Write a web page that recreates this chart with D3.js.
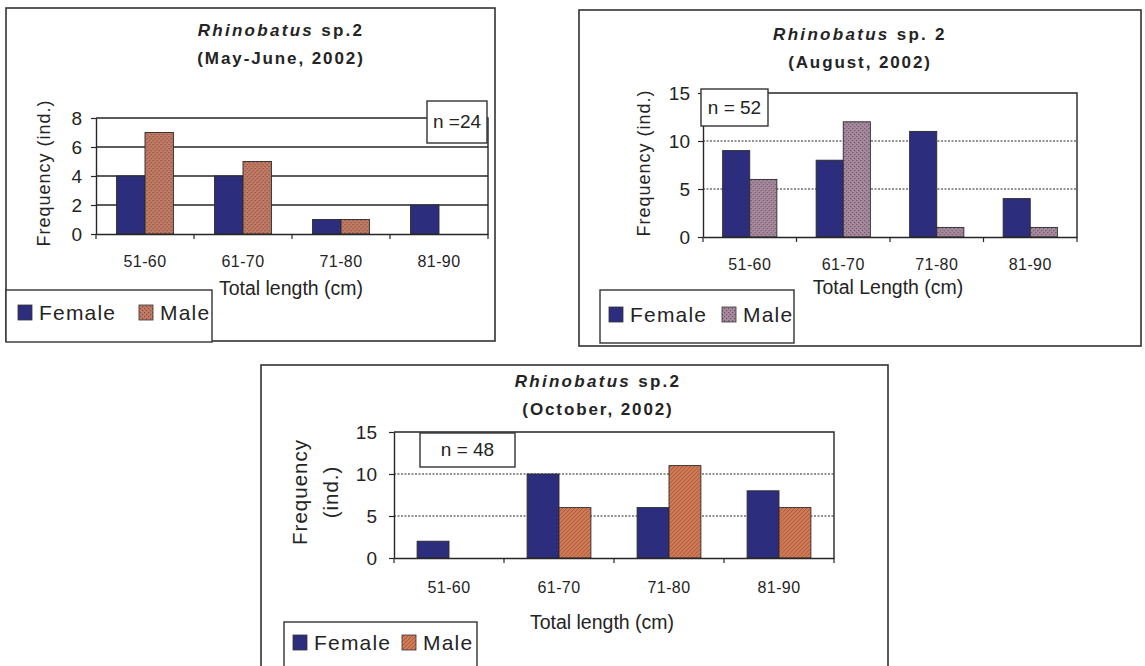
<!DOCTYPE html>
<html>
<head>
<meta charset="utf-8">
<script src="https://cdn.jsdelivr.net/npm/d3@7"></script>
<style>
  body { margin: 0; background: #fff; }
  svg { display: block; }
  text { font-family: "Liberation Sans", Arial, sans-serif; fill: #242424; }
</style>
</head>
<body>
<svg id="chart" width="1145" height="666"></svg>
<script>
// Length-frequency of Rhinobatus sp.2 by sampling period
const lengthClasses = ["51-60", "61-70", "71-80", "81-90"];
const sexes = ["Female", "Male"];

const mayJuneFemale = [4, 4, 1, 2];
const mayJuneMale   = [7, 5, 1, 0];
const augustFemale  = [9, 8, 11, 4];
const augustMale    = [6, 12, 1, 1];
const octoberFemale = [2, 10, 6, 8];
const octoberMale   = [0, 6, 11, 6];

const mayJuneTicks = [0, 2, 4, 6, 8];
const augustTicks  = [0, 5, 10, 15];
const octoberTicks = [0, 5, 10, 15];

const speciesName = "Rhinobatus";
const speciesSuffix = [" sp.2", " sp. 2", " sp.2"];
const periodLabels = ["(May-June, 2002)", "(August, 2002)", "(October, 2002)"];
const sampleLabels = ["n =24", "n = 52", "n = 48"];
const xTitles = ["Total length (cm)", "Total Length (cm)", "Total length (cm)"];
const yTitles = [["Frequency (ind.)"], ["Frequency (ind.)"], ["Frequency", "(ind.)"]];

const femaleColor = "#2c2e7d";
const lineColor = "#262626";

const svg = d3.select("#chart");
const defs = svg.append("defs");

// textured fills for the male bars
function dotPattern(id, bg, fg) {
  const p = defs.append("pattern").attr("id", id)
    .attr("patternUnits", "userSpaceOnUse").attr("width", 4).attr("height", 4);
  p.append("rect").attr("width", 4).attr("height", 4).attr("fill", bg);
  p.append("rect").attr("x", 0).attr("y", 0).attr("width", 1.2).attr("height", 1.2).attr("fill", fg);
  p.append("rect").attr("x", 2).attr("y", 2).attr("width", 1.2).attr("height", 1.2).attr("fill", fg);
}
function hatchPattern(id, bg, fg) {
  const p = defs.append("pattern").attr("id", id)
    .attr("patternUnits", "userSpaceOnUse").attr("width", 4).attr("height", 4);
  p.append("rect").attr("width", 4).attr("height", 4).attr("fill", bg);
  p.append("path").attr("d", "M-1,1 L1,-1 M0,4 L4,0 M3,5 L5,3")
    .attr("stroke", fg).attr("stroke-width", 0.9);
}
dotPattern("maleMayJune", "#c17d66", "#86463a");
dotPattern("maleAugust", "#a88a9e", "#6c5266");
hatchPattern("maleOctober", "#d07a56", "#a5563b");

function drawPanel(cfg) {
  const g = svg.append("g");
  const P = cfg.plot;

  // outer frame
  g.append("rect")
    .attr("x", cfg.frame.x).attr("y", cfg.frame.y)
    .attr("width", cfg.frame.w).attr("height", cfg.frame.h)
    .attr("fill", "#fff").attr("stroke", "#333").attr("stroke-width", 1.6);

  const x = d3.scaleBand().domain(lengthClasses)
    .range([P.l, P.r]).paddingInner(0.42).paddingOuter(0.21);
  const xs = d3.scaleBand().domain(sexes).range([0, x.bandwidth()]);
  const yMax = d3.max(cfg.ticks);
  const y = d3.scaleLinear().domain([0, yMax]).range([P.b, P.t]);

  // horizontal gridlines
  g.append("g").selectAll("line")
    .data(cfg.ticks.filter(t => t > 0 && t < yMax))
    .join("line")
    .attr("x1", P.l).attr("x2", P.r)
    .attr("y1", d => y(d)).attr("y2", d => y(d))
    .attr("stroke", lineColor)
    .attr("stroke-width", cfg.dashedGrid ? 1.2 : 1.4)
    .attr("stroke-dasharray", cfg.dashedGrid ? "2,1.5" : null);

  // plot frame: top and right edges
  g.append("path")
    .attr("d", `M${P.l},${y(yMax)} H${P.r} V${P.b}`)
    .attr("fill", "none").attr("stroke", lineColor).attr("stroke-width", 1.4);

  // bars
  const rows = lengthClasses.map((c, i) => ({ cls: c, Female: cfg.female[i], Male: cfg.male[i] }));
  g.append("g").selectAll("g")
    .data(rows).join("g")
    .attr("transform", d => `translate(${x(d.cls)},0)`)
    .selectAll("rect")
    .data(d => sexes.map(s => ({ sex: s, value: d[s] })).filter(d => d.value > 0))
    .join("rect")
    .attr("x", d => xs(d.sex)).attr("width", xs.bandwidth())
    .attr("y", d => y(d.value)).attr("height", d => y(0) - y(d.value))
    .attr("fill", d => d.sex === "Female" ? femaleColor : `url(#${cfg.malePattern})`)
    .attr("stroke", "#2a2a2a").attr("stroke-width", 0.9);

  // y axis
  const yAxis = g.append("g")
    .attr("transform", `translate(${P.l},0)`)
    .call(d3.axisLeft(y).tickValues(cfg.ticks).tickSize(5).tickSizeOuter(0).tickPadding(cfg.yPad));
  yAxis.select(".domain").attr("stroke", lineColor).attr("stroke-width", 1.4);
  yAxis.selectAll(".tick line").attr("stroke", lineColor).attr("stroke-width", 1.2);
  yAxis.selectAll(".tick text").attr("font-size", 19).attr("fill", "#242424")
    .attr("font-family", "'Liberation Sans', Arial, sans-serif");

  // x axis with category labels
  const labelFs = 16;
  const xAxis = g.append("g")
    .attr("transform", `translate(0,${P.b})`)
    .call(d3.axisBottom(x).tickSize(0).tickSizeOuter(0)
      .tickPadding(cfg.xLabelY - P.b - 0.71 * labelFs));
  xAxis.select(".domain").attr("stroke", lineColor).attr("stroke-width", 1.4);
  xAxis.selectAll(".tick text").attr("font-size", labelFs).attr("fill", "#242424")
    .attr("letter-spacing", 0.4)
    .attr("font-family", "'Liberation Sans', Arial, sans-serif");

  // tick marks at class boundaries
  g.append("g").selectAll("line")
    .data(d3.range(lengthClasses.length + 1))
    .join("line")
    .attr("x1", i => x.range()[0] + i * x.step())
    .attr("x2", i => x.range()[0] + i * x.step())
    .attr("y1", P.b).attr("y2", P.b + 5)
    .attr("stroke", lineColor).attr("stroke-width", 1.2);

  // title
  const t1 = g.append("text")
    .attr("x", cfg.titleX).attr("y", cfg.titleY[0])
    .attr("text-anchor", "middle").attr("font-size", 17).attr("font-weight", "bold")
    .attr("letter-spacing", 2.3);
  t1.append("tspan").attr("font-style", "italic").text(speciesName);
  t1.append("tspan").text(cfg.suffix);
  g.append("text")
    .attr("x", cfg.titleX).attr("y", cfg.titleY[1])
    .attr("text-anchor", "middle").attr("font-size", 17).attr("font-weight", "bold")
    .attr("letter-spacing", 1.9)
    .text(cfg.period);

  // y title
  cfg.yTitle.forEach((line, i) => {
    g.append("text")
      .attr("transform", `translate(${cfg.yTitleX[i]},${cfg.yTitleCy}) rotate(-90)`)
      .attr("text-anchor", "middle").attr("font-size", cfg.yTitleFs).attr("letter-spacing", 1)
      .text(line);
  });

  // x title
  g.append("text")
    .attr("x", cfg.xTitle.x).attr("y", cfg.xTitle.y)
    .attr("text-anchor", "middle").attr("font-size", 19.5)
    .text(cfg.xTitleText);

  // sample size box
  g.append("rect")
    .attr("x", cfg.nBox.x).attr("y", cfg.nBox.y)
    .attr("width", cfg.nBox.w).attr("height", cfg.nBox.h)
    .attr("fill", "#fff").attr("stroke", "#333").attr("stroke-width", 1.4);
  g.append("text")
    .attr("x", cfg.nBox.x + cfg.nBox.w / 2).attr("y", cfg.nBox.ty)
    .attr("text-anchor", "middle").attr("font-size", 19)
    .text(cfg.sample);

  // legend
  const L = cfg.legend;
  g.append("rect")
    .attr("x", L.x).attr("y", L.y).attr("width", L.w).attr("height", L.h)
    .attr("fill", "#fff").attr("stroke", "#333").attr("stroke-width", 1.4);
  sexes.forEach((s, i) => {
    g.append("rect")
      .attr("x", L.sx[i]).attr("y", L.sy).attr("width", 14).attr("height", 15)
      .attr("fill", s === "Female" ? femaleColor : `url(#${cfg.malePattern})`)
      .attr("stroke", "#333").attr("stroke-width", 0.8);
    g.append("text")
      .attr("x", L.sx[i] + 21).attr("y", L.ty)
      .attr("font-size", 21).attr("letter-spacing", 1.2)
      .text(s);
  });
}

drawPanel({
  frame: { x: 6, y: 8, w: 489, h: 333 },
  plot: { l: 96, r: 488, t: 118, b: 234 },
  female: mayJuneFemale, male: mayJuneMale, ticks: mayJuneTicks,
  malePattern: "maleMayJune", dashedGrid: false,
  suffix: speciesSuffix[0], period: periodLabels[0], sample: sampleLabels[0],
  titleX: 281, titleY: [36, 64],
  yTitle: yTitles[0], yTitleX: [50], yTitleCy: 173, yTitleFs: 18, yPad: 9,
  xLabelY: 267, xTitle: { x: 291, y: 295 }, xTitleText: xTitles[0],
  nBox: { x: 427, y: 101, w: 60, h: 42, ty: 128 },
  legend: { x: 6, y: 290, w: 206, h: 52, sx: [18, 139], sy: 305, ty: 320 }
});

drawPanel({
  frame: { x: 579, y: 10, w: 562, h: 336 },
  plot: { l: 703, r: 1077, t: 93, b: 237 },
  female: augustFemale, male: augustMale, ticks: augustTicks,
  malePattern: "maleAugust", dashedGrid: true,
  suffix: speciesSuffix[1], period: periodLabels[1], sample: sampleLabels[1],
  titleX: 860, titleY: [40, 68],
  yTitle: yTitles[1], yTitleX: [650], yTitleCy: 163, yTitleFs: 18, yPad: 8,
  xLabelY: 270, xTitle: { x: 888, y: 294 }, xTitleText: xTitles[1],
  nBox: { x: 701, y: 89, w: 67, h: 37, ty: 114 },
  legend: { x: 600, y: 290, w: 194, h: 53, sx: [609, 722], sy: 307, ty: 322 }
});

drawPanel({
  frame: { x: 261, y: 365, w: 627, h: 320 },
  plot: { l: 394, r: 834, t: 432, b: 558 },
  female: octoberFemale, male: octoberMale, ticks: octoberTicks,
  malePattern: "maleOctober", dashedGrid: true,
  suffix: speciesSuffix[2], period: periodLabels[2], sample: sampleLabels[2],
  titleX: 598, titleY: [387, 415],
  yTitle: yTitles[2], yTitleX: [307, 338], yTitleCy: 492, yTitleFs: 20.5, yPad: 12,
  xLabelY: 593, xTitle: { x: 602, y: 629 }, xTitleText: xTitles[2],
  nBox: { x: 420, y: 433, w: 95, h: 34, ty: 456 },
  legend: { x: 284, y: 622, w: 193, h: 60, sx: [293, 402], sy: 635, ty: 650 }
});
</script>
</body>
</html>
